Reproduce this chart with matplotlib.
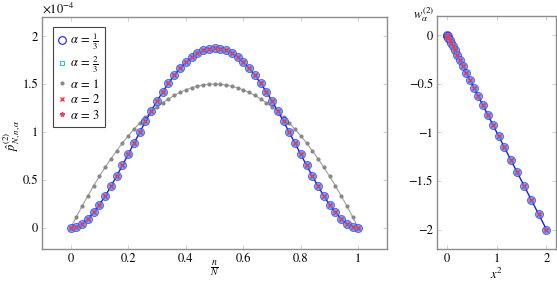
import matplotlib
matplotlib.use("Agg")
import matplotlib.pyplot as plt
from matplotlib.lines import Line2D

plt.rcParams['font.family'] = ['STIXGeneral', 'Liberation Serif', 'DejaVu Serif']
plt.rcParams['mathtext.fontset'] = 'stix'
plt.rcParams['font.size'] = 9

# ---- data (left panel), y in units of 1e-4 ----
n_over_N = [0.00, 0.02, 0.04, 0.06, 0.08, 0.10, 0.12, 0.14, 0.16, 0.18,
            0.20, 0.22, 0.24, 0.26, 0.28, 0.30, 0.32, 0.34, 0.36, 0.38,
            0.40, 0.42, 0.44, 0.46, 0.48, 0.50, 0.52, 0.54, 0.56, 0.58,
            0.60, 0.62, 0.64, 0.66, 0.68, 0.70, 0.72, 0.74, 0.76, 0.78,
            0.80, 0.82, 0.84, 0.86, 0.88, 0.90, 0.92, 0.94, 0.96, 0.98, 1.00]
p_alpha_main = [0.000, 0.012, 0.044, 0.095, 0.163, 0.243, 0.335, 0.435, 0.542, 0.654,
                0.768, 0.883, 0.998, 1.111, 1.219, 1.323, 1.420, 1.511, 1.593, 1.665,
                1.728, 1.780, 1.821, 1.851, 1.869, 1.875, 1.869, 1.851, 1.821, 1.780,
                1.728, 1.665, 1.593, 1.511, 1.420, 1.323, 1.219, 1.111, 0.998, 0.883,
                0.768, 0.654, 0.542, 0.435, 0.335, 0.243, 0.163, 0.095, 0.044, 0.012, 0.000]
p_alpha_1 = [0.000, 0.118, 0.230, 0.338, 0.442, 0.540, 0.634, 0.722, 0.806, 0.886,
             0.960, 1.030, 1.094, 1.154, 1.210, 1.260, 1.306, 1.346, 1.382, 1.414,
             1.440, 1.462, 1.478, 1.490, 1.498, 1.500, 1.498, 1.490, 1.478, 1.462,
             1.440, 1.414, 1.382, 1.346, 1.306, 1.260, 1.210, 1.154, 1.094, 1.030,
             0.960, 0.886, 0.806, 0.722, 0.634, 0.540, 0.442, 0.338, 0.230, 0.118, 0.000]

# ---- data (right panel) ----
x_sq = [0.0000, 0.0032, 0.0128, 0.0288, 0.0512, 0.0800, 0.1152, 0.1568, 0.2048,
        0.2592, 0.3200, 0.3872, 0.4608, 0.5408, 0.6272, 0.7200, 0.8192, 0.9248,
        1.0368, 1.1552, 1.2800, 1.4112, 1.5488, 1.6928, 1.8432, 2.0000]
w_alpha = [-0.0000, -0.0032, -0.0128, -0.0288, -0.0512, -0.0800, -0.1152, -0.1568, -0.2048,
           -0.2592, -0.3200, -0.3872, -0.4608, -0.5408, -0.6272, -0.7200, -0.8192, -0.9248,
           -1.0368, -1.1552, -1.2800, -1.4112, -1.5488, -1.6928, -1.8432, -2.0000]

legend_labels = [r'$\alpha\,=\,\frac{1}{3}$', r'$\alpha\,=\,\frac{2}{3}$',
                 r'$\alpha\,=\,1$', r'$\alpha\,=\,2$', r'$\alpha\,=\,3$']

BLUE = '#1a1aff'
CIRC_FACE = '#5f8cff'
CYAN = '#33bbee'
GRAY = '#888888'
RED = '#ff2020'
PINK = '#e0407a'
SPINE = '#8c8c8c'

fig = plt.figure(figsize=(5.57, 2.81), dpi=100)
axL = fig.add_axes([0.0754, 0.1139, 0.6194, 0.8256])
axR = fig.add_axes([0.7846, 0.1139, 0.2144, 0.8300])


def style(ax):
    for s in ax.spines.values():
        s.set_color(SPINE)
        s.set_linewidth(1.0)
    ax.tick_params(direction='in', length=3, width=0.6, color='#c8c8c8',
                   top=True, right=True, labelsize=9, pad=3)


def draw_series(ax, x, y):
    ax.plot(x, y, color=BLUE, lw=1.0, zorder=2)
    ax.plot(x, y, ls='none', marker='o', ms=5.8, mfc=CIRC_FACE, mec=BLUE, mew=0.5,
            alpha=0.8, zorder=3)
    ax.plot(x, y, ls='none', marker='s', ms=3.0, mfc='none', mec=CYAN, mew=0.5, zorder=4)
    ax.plot(x, y, ls='none', marker='x', ms=2.2, mec=RED, mew=0.9, zorder=5)
    ax.plot(x, y, ls='none', marker='*', ms=2.6, mfc=PINK, mec=PINK, mew=0.3, zorder=6)


# left panel
axL.plot(n_over_N, p_alpha_1, color='#a0a0a0', lw=0.8, marker='o', ms=2.0,
         mfc=GRAY, mec=GRAY, zorder=1)
draw_series(axL, n_over_N, p_alpha_main)
axL.set_xlim(-0.1, 1.1)
axL.set_ylim(-0.22, 2.2)
axL.set_xticks([0, 0.2, 0.4, 0.6, 0.8, 1])
axL.set_xticklabels(['0', '0.2', '0.4', '0.6', '0.8', '1'])
axL.set_yticks([0, 0.5, 1, 1.5, 2])
axL.set_yticklabels(['0', '0.5', '1', '1.5', '2'])
style(axL)
fig.text(0.0754 + 0.6194 / 2, 1 - 269 / 281, r'$\frac{n}{N}$', fontsize=10,
         ha='center', va='center')
fig.text(0.022, 0.52, r'$\hat{p}^{(2)}_{N,n,\alpha}$', fontsize=9, ha='center',
         va='center', rotation=90)
fig.text(0.0754, 0.995, r'$\times10^{-4}$', fontsize=9, ha='left', va='top')

handles = [
    Line2D([], [], ls='none', marker='o', ms=5.5, mfc='none', mec=BLUE, mew=0.8),
    Line2D([], [], ls='none', marker='s', ms=3.5, mfc='none', mec=CYAN, mew=0.8),
    Line2D([], [], ls='none', marker='o', ms=2.0, mfc=GRAY, mec=GRAY),
    Line2D([], [], ls='none', marker='x', ms=2.8, mec=RED, mew=0.9),
    Line2D([], [], ls='none', marker='*', ms=3.5, mfc=PINK, mec=PINK),
]
leg = axL.legend(handles, legend_labels, loc='upper left', bbox_to_anchor=(0.015, 0.985),
                 frameon=True, fancybox=False, edgecolor='#444444', framealpha=1,
                 handlelength=0.6, handletextpad=0.3, borderpad=0.4, labelspacing=0.2,
                 fontsize=9)
leg.get_frame().set_linewidth(0.8)

# right panel
draw_series(axR, x_sq, w_alpha)
axR.set_xlim(-0.2, 2.2)
axR.set_ylim(-2.2, 0.2)
axR.set_xticks([0, 1, 2])
axR.set_xticklabels(['0', '1', '2'])
axR.set_yticks([0, -0.5, -1, -1.5, -2])
axR.set_yticklabels(['0', '\u22120.5', '\u22121', '\u22121.5', '\u22122'])
style(axR)
fig.text(0.7846 + 0.2144 * (0.2 + 1.0) / 2.4, 1 - 266.5 / 281, r'$x^2$', fontsize=9,
         ha='center', va='top')
fig.text(0.7846 - 0.005, 0.947, r'$w^{(2)}_{\alpha}$', ha='right', va='center', fontsize=9)

fig.savefig('out.png', dpi=100)
